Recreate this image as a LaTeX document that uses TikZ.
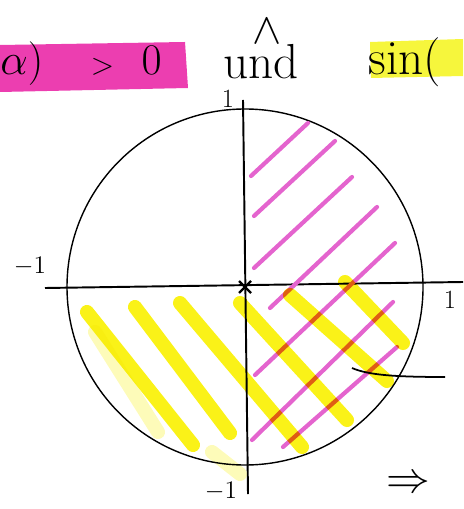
\documentclass[tikz,border=0pt]{standalone}
\usepackage{amsmath,amssymb}
\usepackage{tikz}
\usetikzlibrary{calc}
\definecolor{hlpink}{RGB}{236,62,176}
\definecolor{hlyellow}{RGB}{246,246,60}
\definecolor{hatchpink}{RGB}{228,100,206}
\definecolor{hatchyellow}{RGB}{250,242,24}

\begin{document}
\begin{tikzpicture}[x=0.02cm,y=-0.02cm,
  pinkline/.style={hatchpink,line width=2.4pt,line cap=round},
  yellowline/.style={hatchyellow,line width=8pt,line cap=round},
  lbl/.style={font=\fontsize{15}{16}\selectfont,inner sep=0pt},
  big/.style={font=\fontsize{28}{30}\selectfont,inner sep=0pt}]
  \useasboundingbox (0,0) rectangle (463,509);
  % headline
  \fill[hlpink] (0,45) -- (185,42) -- (188,88) -- (0,92) -- cycle;
  \fill[hlyellow] (370,42) -- (463,39) -- (463,76) -- (371,78) -- cycle;
  \node[big,anchor=west] (cospos) at (0,64)
    {$\alpha)$\hspace{0.95cm}\scalebox{0.7}{$>$}\hspace{0.55cm}$0$};
  \node[big] (und) at (261,62) {und};
  \node[big] (wedge) at (267,31) {$\wedge$};
  \node[big,anchor=west] (sinpos) at (368,62) {sin(};

  % unit circle
  \draw[line width=0.8pt] (245,287) circle[radius=178];
  \draw[line width=1.1pt] (243,100) -- (248,494);
  \draw[line width=1.1pt] (45,288) -- (463,282);
  \draw[line width=1.3pt] (239,281) -- (251,293) (239,293) -- (251,281);
  \node[lbl] (ytop) at (228,99) {1};
  \node[lbl] (xneg) at (30,266) {$-1$};
  \node[lbl] (xpos) at (450,300) {1};
  \node[lbl] (yneg) at (221,491) {$-1$};

  % hatching
  \foreach \xa/\ya/\xb/\yb in {251/176/308/123, 254/216/335/141,
      254/268/352/177, 270/308/377/207, 255/375/395/243,
      252/440/393/302, 283/447/397/347}
    \draw[pinkline] (\xa,\ya) -- (\xb,\yb);
  \begin{scope}[blend mode=multiply]
    \foreach \xa/\ya/\xb/\yb in {87/312/193/445, 135/307/230/433,
        180/303/302/447, 240/303/347/420, 290/295/387/381,
        345/282/403/343}
      \draw[yellowline] (\xa,\ya) -- (\xb,\yb);
    \draw[yellowline,opacity=0.3] (95,332) -- (158,432);
    \draw[yellowline,opacity=0.3] (212,452) -- (240,474);
  \end{scope}

  % pointer and conclusion
  \draw[line width=1pt] (352,368) .. controls (368,375) and (395,377) .. (445,377);
  \node[font=\fontsize{27}{28}\selectfont] (implies) at (408,484) {$\Rightarrow$};
\end{tikzpicture}
\end{document}
